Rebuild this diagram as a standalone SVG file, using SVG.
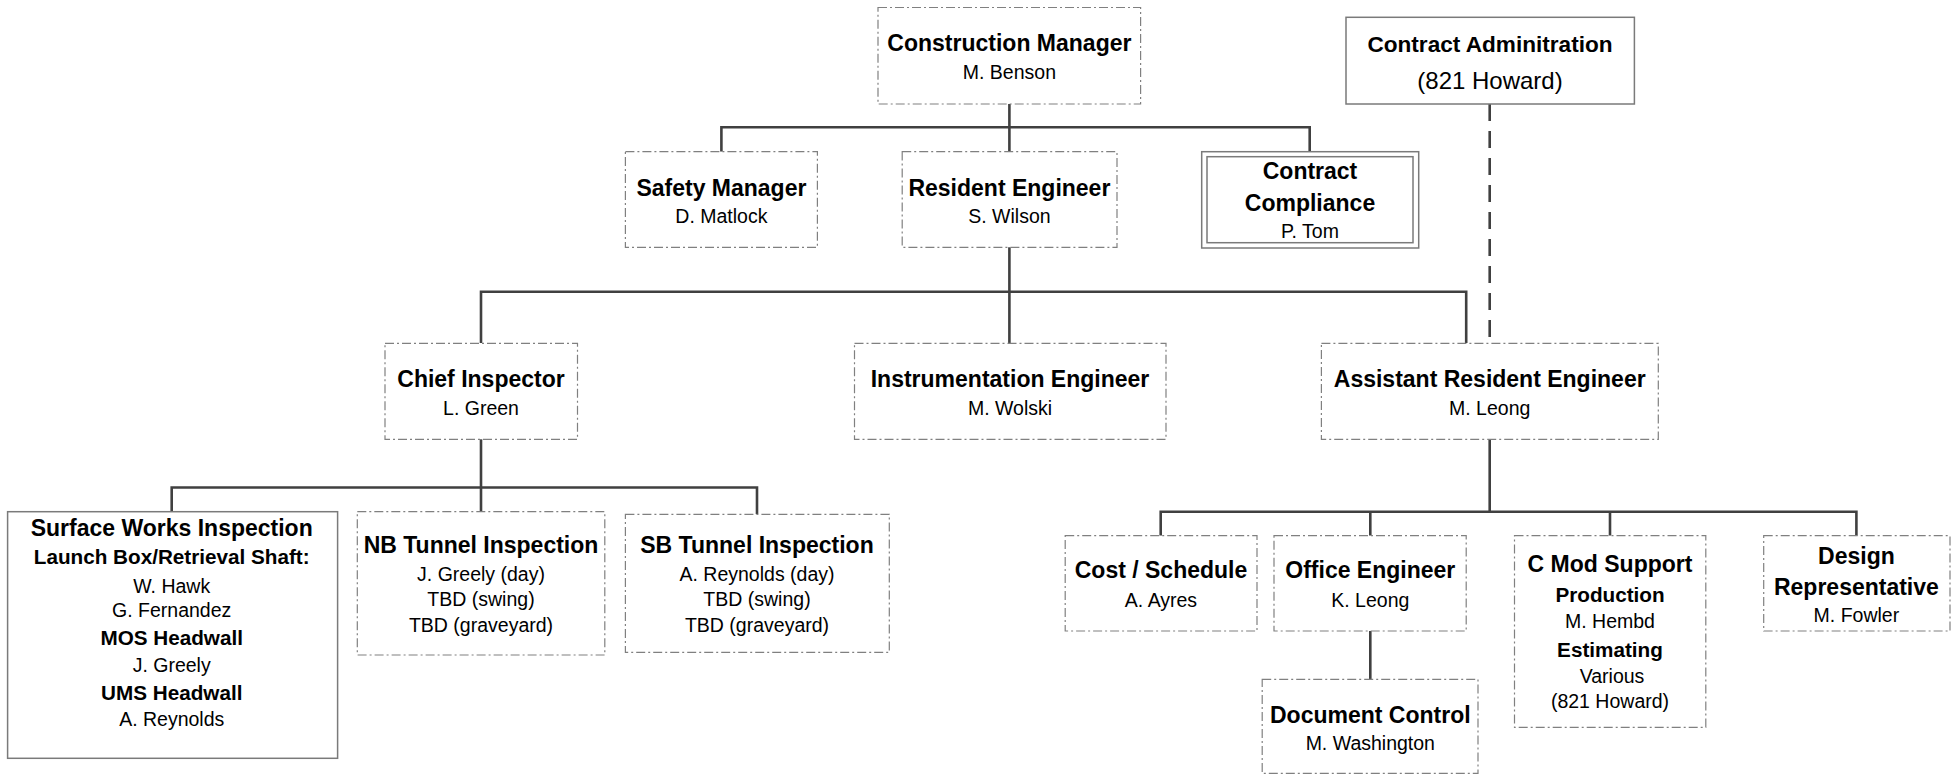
<svg xmlns="http://www.w3.org/2000/svg" width="1959" height="775" viewBox="0 0 1959 775">
<style>
.dd{fill:#fff;stroke:#808080;stroke-width:1.2;stroke-dasharray:9 3 2 3}
.sb{fill:#fff;stroke:#7a7a7a;stroke-width:1.5}
.cn{fill:none;stroke:#404040;stroke-width:2.6}
.ds{fill:none;stroke:#404040;stroke-width:2.6;stroke-dasharray:17 10}
text{font-family:"Liberation Sans",Arial,sans-serif;text-anchor:middle;fill:#000}
.t{font-weight:bold;font-size:23px}
.s{font-weight:bold;font-size:20.7px}
.n{font-size:19.5px}
</style>
<rect width="1959" height="775" fill="#fff"/>
<g id="connectors">
<path class="cn" d="M1009.4 104V127.3M721.4 151.7V127.3H1309.7V151.7M1009.4 127.3V152"/>
<path class="cn" d="M1009.4 247V291.7M481 343V291.7H1466.2V343M1009.4 291.7V343"/>
<path class="ds" d="M1489.7 104V343"/>
<path class="cn" d="M481 439V487.5M171.7 511.7V487.5H757V514.3M481 487.5V511.7"/>
<path class="cn" d="M1489.7 439V511.7M1160.7 535.7V511.7H1856.4V535.7M1370.3 511.7V535.7M1610 511.7V535.7"/>
<path class="cn" d="M1370.3 631V679.3"/>
</g>
<g id="construction-manager">
<rect class="dd" x="878" y="7.5" width="262.6" height="96.5"/>
<text class="t" x="1009.4" y="50.5">Construction Manager</text>
<text class="n" x="1009.4" y="79">M. Benson</text>
</g>
<g id="contract-administration">
<rect class="sb" x="1346" y="17.3" width="288.4" height="86.7"/>
<text class="t" x="1490" y="52" style="font-size:22.6px">Contract Adminitration</text>
<text class="n" x="1490" y="88.5" style="font-size:24px">(821 Howard)</text>
</g>
<g id="safety-manager">
<rect class="dd" x="625.4" y="151.7" width="192" height="95.6"/>
<text class="t" x="721.4" y="195.5">Safety Manager</text>
<text class="n" x="721.4" y="222.5">D. Matlock</text>
</g>
<g id="resident-engineer">
<rect class="dd" x="902.2" y="151.7" width="214.8" height="95.6"/>
<text class="t" x="1009.4" y="195.5">Resident Engineer</text>
<text class="n" x="1009.4" y="222.5">S. Wilson</text>
</g>
<g id="contract-compliance">
<rect class="sb" x="1201.7" y="151.7" width="217" height="96.3"/>
<rect class="sb" x="1207" y="156.7" width="206" height="86"/>
<text class="t" x="1310" y="179">Contract</text>
<text class="t" x="1310" y="210.5">Compliance</text>
<text class="n" x="1310" y="238">P. Tom</text>
</g>
<g id="chief-inspector">
<rect class="dd" x="385" y="343.3" width="192.5" height="96"/>
<text class="t" x="481" y="387">Chief Inspector</text>
<text class="n" x="481" y="415">L. Green</text>
</g>
<g id="instrumentation-engineer">
<rect class="dd" x="854.5" y="343.3" width="311.5" height="96"/>
<text class="t" x="1010" y="387">Instrumentation Engineer</text>
<text class="n" x="1010" y="415">M. Wolski</text>
</g>
<g id="assistant-resident-engineer">
<rect class="dd" x="1321.4" y="343.3" width="336.9" height="96"/>
<text class="t" x="1489.7" y="387">Assistant Resident Engineer</text>
<text class="n" x="1489.7" y="415">M. Leong</text>
</g>
<g id="surface-works-inspection">
<rect class="sb" x="7.6" y="511.7" width="330" height="246.6"/>
<text class="t" x="171.7" y="536">Surface Works Inspection</text>
<text class="s" x="171.7" y="564">Launch Box/Retrieval Shaft:</text>
<text class="n" x="171.7" y="592.5">W. Hawk</text>
<text class="n" x="171.7" y="617">G. Fernandez</text>
<text class="s" x="171.7" y="644.5">MOS Headwall</text>
<text class="n" x="171.7" y="672">J. Greely</text>
<text class="s" x="171.7" y="700">UMS Headwall</text>
<text class="n" x="171.7" y="726">A. Reynolds</text>
</g>
<g id="nb-tunnel-inspection">
<rect class="dd" x="357.3" y="511.7" width="247.5" height="143.3"/>
<text class="t" x="481" y="552.5">NB Tunnel Inspection</text>
<text class="n" x="481" y="580.5">J. Greely (day)</text>
<text class="n" x="481" y="606">TBD (swing)</text>
<text class="n" x="481" y="631.5">TBD (graveyard)</text>
</g>
<g id="sb-tunnel-inspection">
<rect class="dd" x="625.4" y="514.3" width="263.9" height="138"/>
<text class="t" x="757" y="552.5">SB Tunnel Inspection</text>
<text class="n" x="757" y="580.5">A. Reynolds (day)</text>
<text class="n" x="757" y="606">TBD (swing)</text>
<text class="n" x="757" y="631.5">TBD (graveyard)</text>
</g>
<g id="cost-schedule">
<rect class="dd" x="1065.2" y="535.7" width="191.8" height="95.3"/>
<text class="t" x="1161" y="578">Cost / Schedule</text>
<text class="n" x="1161" y="606.5">A. Ayres</text>
</g>
<g id="office-engineer">
<rect class="dd" x="1274" y="535.7" width="192.2" height="95.3"/>
<text class="t" x="1370.3" y="578">Office Engineer</text>
<text class="n" x="1370.3" y="606.5">K. Leong</text>
</g>
<g id="document-control">
<rect class="dd" x="1262.2" y="679.3" width="215.8" height="94"/>
<text class="t" x="1370.3" y="722.5">Document Control</text>
<text class="n" x="1370.3" y="750">M. Washington</text>
</g>
<g id="c-mod-support">
<rect class="dd" x="1514.5" y="535.7" width="191.3" height="191.6"/>
<text class="t" x="1610" y="571.5">C Mod Support</text>
<text class="s" x="1610" y="602">Production</text>
<text class="n" x="1610" y="628">M. Hembd</text>
<text class="s" x="1610" y="656.5">Estimating</text>
<text class="n" x="1612" y="683">Various</text>
<text class="n" x="1610" y="708">(821 Howard)</text>
</g>
<g id="design-representative">
<rect class="dd" x="1763.7" y="535.7" width="186.3" height="95.3"/>
<text class="t" x="1856.4" y="563.5">Design</text>
<text class="t" x="1856.4" y="595">Representative</text>
<text class="n" x="1856.4" y="622">M. Fowler</text>
</g>
</svg>
